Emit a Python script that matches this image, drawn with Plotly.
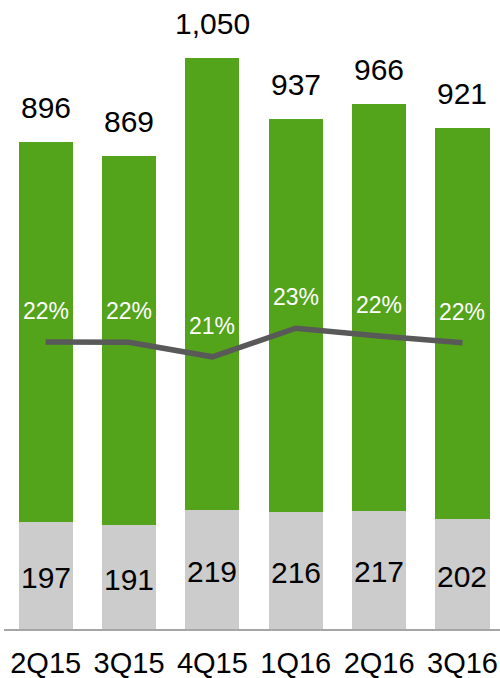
import plotly.graph_objects as go

categories = ["2Q15", "3Q15", "4Q15", "1Q16", "2Q16", "3Q16"]
totals = [896, 869, 1050, 937, 966, 921]
bottom_vals = [197, 191, 219, 216, 217, 202]
pct_vals = [21.99, 21.98, 20.86, 23.05, 22.46, 21.93]
pct_labels = ["22%", "22%", "21%", "23%", "22%", "22%"]

green = "#53A31B"
gray = "#CCCCCC"
FONT = "Liberation Sans, Arial, sans-serif"

top_vals = [t - b for t, b in zip(totals, bottom_vals)]

fig = go.Figure()
fig.add_trace(go.Bar(x=categories, y=bottom_vals, marker_color=gray,
                     marker_line_width=0, hoverinfo="skip", yaxis="y"))
fig.add_trace(go.Bar(x=categories, y=top_vals, marker_color=green,
                     marker_line_width=0, hoverinfo="skip", yaxis="y"))
fig.add_trace(go.Scatter(x=categories, y=pct_vals, mode="lines",
                         line=dict(color="#595959", width=5.5),
                         hoverinfo="skip", yaxis="y2"))

annotations = []
for c, t in zip(categories, totals):
    annotations.append(dict(x=c, y=t, xref="x", yref="y", text=f"{t:,}",
                            showarrow=False, yanchor="bottom", yshift=16,
                            font=dict(size=30, color="black", family=FONT)))
for c, b in zip(categories, bottom_vals):
    annotations.append(dict(x=c, y=b / 2, xref="x", yref="y", text=str(b),
                            showarrow=False, yanchor="middle", yshift=-2,
                            font=dict(size=30, color="black", family=FONT)))
for c, p, lab in zip(categories, pct_vals, pct_labels):
    annotations.append(dict(x=c, y=p, xref="x", yref="y2", text=lab,
                            showarrow=False, yanchor="middle", yshift=31,
                            font=dict(size=23, color="white", family=FONT)))

fig.update_layout(
    width=500, height=678,
    margin=dict(l=4, r=0, t=20, b=49, autoexpand=False),
    barmode="stack", bargap=0.352,
    showlegend=False,
    plot_bgcolor="white", paper_bgcolor="white",
    font=dict(family=FONT, color="black"),
    annotations=annotations,
    xaxis=dict(domain=[0, 1], range=[-0.5, 5.45], showline=True,
               linecolor="#A6A6A6", linewidth=2, ticks="", showgrid=False,
               automargin=False, ticklabelstandoff=7,
               tickfont=dict(size=29, color="black", family=FONT)),
    yaxis=dict(range=[0, 1119.5], visible=False, showgrid=False,
               automargin=False),
    yaxis2=dict(range=[0, 46.67], visible=False, showgrid=False,
                overlaying="y", side="right", automargin=False),
)

fig.write_html(
    "out.html",
    config={"displayModeBar": False, "staticPlot": True},
    post_script="document.body.style.margin='0';"
                "document.body.style.overflow='hidden';",
)
